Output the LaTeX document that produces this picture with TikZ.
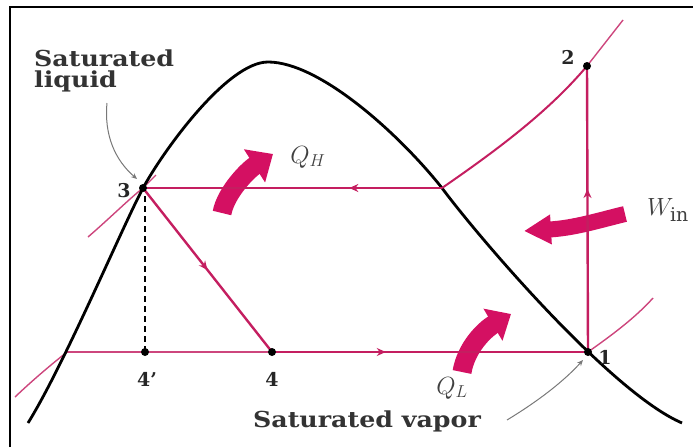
\documentclass[tikz,border=0pt]{standalone}
\usepackage{fontspec}
\setmainfont{DejaVu Serif}
\newfontfamily\widefont[FakeStretch=1.15]{DejaVu Serif}
\usetikzlibrary{arrows.meta,decorations.markings}
\definecolor{cyc}{RGB}{196,30,96}
\definecolor{bigc}{RGB}{212,16,98}
\definecolor{iso}{RGB}{205,70,125}
\definecolor{lead}{RGB}{120,120,120}
\begin{document}
\begin{tikzpicture}[x=1pt,y=-1pt,
  cyclepath/.style={draw=cyc, line width=2.4pt},
  isob/.style={draw=iso, line width=1.4pt},
  dome/.style={draw=black, line width=2.8pt, line join=round},
  dot/.style={circle, fill=black, inner sep=0pt, minimum size=8pt},
  lbl/.style={font=\bfseries\fontsize{19}{19}\selectfont, inner sep=0pt, text=black!85},
  wlbl/.style={font=\widefont\bfseries\fontsize{22}{21}\selectfont, inner sep=0pt, text=black!80},
  mlbl/.style={font=\fontsize{27}{27}\selectfont, inner sep=0pt, text=black!75},
  big/.style={draw=bigc, line width=#1},
  leader/.style={draw=lead, line width=1pt, -{Stealth[length=6pt,width=5pt]}},
  midarrow/.style={postaction={decorate}, decoration={markings,
     mark=at position #1 with {\arrow{Stealth[length=9pt,width=8pt]}}}}
]
\useasboundingbox (0,0) rectangle (693,447);
% frame
\draw[line width=1.5pt] (10,447) -- (10,7) -- (693,7);

% named points
\coordinate (p1) at (588,352);
\coordinate (p2) at (587,66);
\coordinate (p3) at (143,188);
\coordinate (p4) at (272,352);
\coordinate (p4p) at (145,352);
\coordinate (hp) at (442,188);
\coordinate (lp) at (67,352);

% isobars (thin)
\draw[isob] (15,397) .. controls (35,378) and (52,364) .. (lp);
\draw[isob] (88,237) .. controls (110,218) and (128,200) .. (p3) -- (156,175);
\draw[isob] (p1) .. controls (612,335) and (635,318) .. (653,298);
\draw[isob] (lp) -- (p4);

% saturation dome
\draw[dome] (28,423) .. controls (64,365) and (120,232) .. (p3)
  .. controls (165,148) and (228,62) .. (268,62)
  .. controls (320,62) and (400,135) .. (hp)
  .. controls (476,234) and (610,392) .. (682,423);

% dashed line 3 - 4'
\draw[line width=2.6pt, dash pattern=on 6pt off 4pt] (145,196) -- (p4p);

% big arrows
\draw[big=19pt, -{Triangle[width=38pt,length=22pt]}] (222,213) .. controls (226,192) and (248,170) .. (273,154);
\draw[big=16pt, -{Triangle[width=28pt,length=27pt]}] (625,214) .. controls (600,220) and (575,228) .. (524,231);
\draw[big=19pt, -{Triangle[width=36pt,length=21pt]}] (462,372) .. controls (466,348) and (484,330) .. (511,314);

% cycle
\draw[cyclepath, line width=2pt] (p2) .. controls (550,110) and (500,148) .. (hp);
\draw[cyclepath, midarrow=0.31] (hp) -- (p3);
\draw[cyclepath, midarrow=0.5] (p3) -- (p4);
\draw[cyclepath, midarrow=0.36] (p4) -- (p1);
\draw[cyclepath, midarrow=0.57] (p1) -- (p2);
\draw[isob] (p2) -- (623,20);

% dots
\node[dot] (d1) at (p1) {};
\node[dot] (d2) at (p2) {};
\node[dot] (d3) at (p3) {};
\node[dot] (d4) at (p4) {};
\node[dot] (d4p) at (p4p) {};

% leaders
\coordinate (sl) at (107,103);
\coordinate (sv) at (507,420);
\draw[leader] (sl) .. controls (104,135) and (115,160) .. (137,179);
\draw[leader] (sv) .. controls (540,400) and (565,380) .. (583,360);

% labels
\node[wlbl, anchor=north west, align=left] (tsl) at (34,50) {Saturated\\liquid};
\node[wlbl] (tsv) at (367,421) {Saturated vapor};
\node[lbl] (l1) at (605,357) {1};
\node[lbl] (l2) at (568,57) {2};
\node[lbl] (l3) at (124,191) {3};
\node[lbl] (l4) at (272,379) {4};
\node[lbl] (l4p) at (147,379) {4'};
\node[mlbl] (qh) at (308,157) {$Q_H$};
\node[mlbl] (win) at (668,210) {$W_{\mathrm{in}}$};
\node[mlbl] (ql) at (452,388) {$Q_L$};
\end{tikzpicture}
\end{document}
